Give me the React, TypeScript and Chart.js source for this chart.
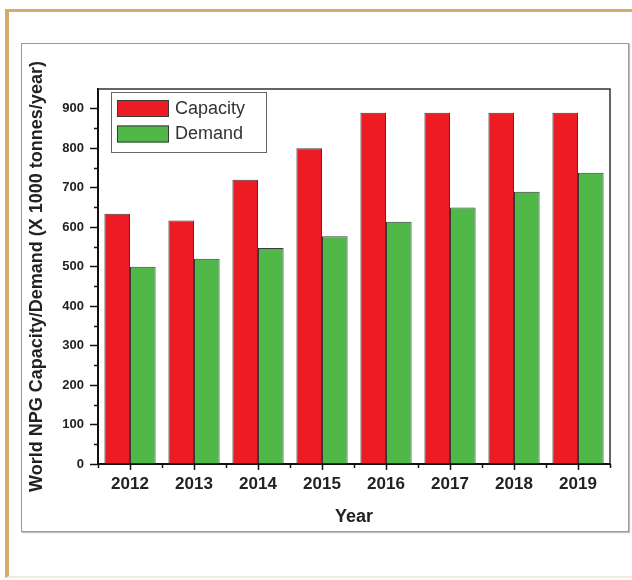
import React, { useEffect, useRef } from 'react';
import { Chart, registerables } from 'chart.js';

Chart.register(...registerables);

const YEARS = ['2012', '2013', '2014', '2015', '2016', '2017', '2018', '2019'];
const CAPACITY = [634, 617, 720, 800, 890, 890, 890, 890];
const DEMAND = [500, 520, 547, 577, 614, 650, 690, 738];
const SERIES_LABELS = ['Capacity', 'Demand'];
const Y_MIN = 0;
const Y_MAX = 950;
const Y_STEP = 100;
const Y_TITLE = 'World NPG Capacity/Demand (X 1000 tonnes/year)';
const X_TITLE = 'Year';

const RED = '#ED1C24';
const GREEN = '#4FB848';
const BAR_EDGE = '#3a3a3a';
const INK = '#222222';
const FONT = "'Liberation Sans', Arial, Helvetica, sans-serif";

const framePlugin = {
  id: 'frameAndMinorTicks',
  afterDraw(chart: any) {
    const { ctx, chartArea } = chart;
    const xs = chart.scales.x;
    const ys = chart.scales.y;
    ctx.save();
    // top and right frame lines
    ctx.strokeStyle = '#333';
    ctx.lineWidth = 1.5;
    ctx.beginPath();
    ctx.moveTo(chartArea.left, chartArea.top);
    ctx.lineTo(chartArea.right, chartArea.top);
    ctx.lineTo(chartArea.right, chartArea.bottom);
    ctx.stroke();
    // minor ticks
    ctx.strokeStyle = '#111';
    ctx.lineWidth = 1.5;
    ctx.beginPath();
    for (let v = Y_MIN + Y_STEP / 2; v < Y_MAX; v += Y_STEP) {
      const py = Math.round(ys.getPixelForValue(v)) + 0.5;
      ctx.moveTo(chartArea.left - 4, py);
      ctx.lineTo(chartArea.left, py);
    }
    const half = (xs.getPixelForValue(1) - xs.getPixelForValue(0)) / 2;
    for (let i = 0; i <= YEARS.length; i++) {
      const px = Math.round(xs.getPixelForValue(i) - half) + 0.5;
      ctx.moveTo(px, chartArea.bottom);
      ctx.lineTo(px, chartArea.bottom + 4);
    }
    ctx.stroke();
    ctx.restore();
  },
};

const legendPlugin = {
  id: 'insideLegend',
  afterDraw(chart: any) {
    const { ctx, chartArea } = chart;
    const x0 = chartArea.left + 13;
    const y0 = chartArea.top + 3;
    const w = 155;
    const h = 60;
    ctx.save();
    ctx.fillStyle = '#fff';
    ctx.fillRect(x0, y0, w, h);
    ctx.strokeStyle = '#666';
    ctx.lineWidth = 1;
    ctx.strokeRect(x0 + 0.5, y0 + 0.5, w, h);
    ctx.font = `18px ${FONT}`;
    ctx.textBaseline = 'middle';
    ctx.textAlign = 'left';
    chart.data.datasets.forEach((ds: any, i: number) => {
      const sy = y0 + 8 + i * 25.5;
      ctx.fillStyle = ds.backgroundColor;
      ctx.fillRect(x0 + 6, sy, 52, 17);
      ctx.strokeStyle = BAR_EDGE;
      ctx.strokeRect(x0 + 6.5, sy + 0.5, 51, 16);
      ctx.fillStyle = '#333';
      ctx.fillText(ds.label, x0 + 64, sy + 9);
    });
    ctx.restore();
  },
};

export default function App() {
  const ref = useRef<HTMLCanvasElement>(null);

  useEffect(() => {
    document.body.style.margin = '0';
    const chart = new Chart(ref.current as HTMLCanvasElement, {
      type: 'bar',
      data: {
        labels: YEARS,
        datasets: [
          {
            label: SERIES_LABELS[0],
            data: CAPACITY,
            backgroundColor: RED,
            borderColor: BAR_EDGE,
            borderWidth: 1,
            categoryPercentage: 0.8,
            barPercentage: 1.0,
          },
          {
            label: SERIES_LABELS[1],
            data: DEMAND,
            backgroundColor: GREEN,
            borderColor: BAR_EDGE,
            borderWidth: 1,
            categoryPercentage: 0.8,
            barPercentage: 1.0,
          },
        ],
      },
      options: {
        responsive: false,
        animation: false,
        devicePixelRatio: 1,
        layout: { padding: { left: 22, top: 89, right: 22, bottom: 52 } },
        plugins: {
          legend: { display: false },
          tooltip: { enabled: false },
        },
        scales: {
          x: {
            type: 'category',
            offset: true,
            grid: {
              display: true,
              offset: false,
              drawOnChartArea: false,
              drawTicks: true,
              tickLength: 6,
              tickWidth: 1.5,
              tickColor: '#111',
            },
            border: { display: true, color: '#111', width: 2 },
            ticks: {
              color: INK,
              padding: 4,
              maxRotation: 0,
              font: { family: FONT, size: 17, weight: 'bold' },
            },
            title: {
              display: true,
              text: X_TITLE,
              color: INK,
              padding: { top: 0, bottom: 0 },
              font: { family: FONT, size: 18, weight: 'bold' },
            },
            afterFit(scale: any) {
              scale.height = 64;
            },
          },
          y: {
            min: Y_MIN,
            max: Y_MAX,
            grid: {
              display: true,
              drawOnChartArea: false,
              drawTicks: true,
              tickLength: 8,
              tickWidth: 1.5,
              tickColor: '#111',
            },
            border: { display: true, color: '#111', width: 2 },
            ticks: {
              stepSize: Y_STEP,
              includeBounds: false,
              color: INK,
              padding: 6,
              font: { family: FONT, size: 13, weight: 'bold' },
            },
            title: {
              display: true,
              text: Y_TITLE,
              color: INK,
              padding: { top: 4, bottom: 0 },
              font: { family: FONT, size: 18, weight: 'bold' },
            },
            afterFit(scale: any) {
              scale.width = 76;
            },
          },
        },
      } as any,
      plugins: [framePlugin, legendPlugin],
    });
    return () => chart.destroy();
  }, []);

  return (
    <div
      style={{
        position: 'absolute',
        left: 0,
        top: 0,
        width: 632,
        height: 580,
        overflow: 'hidden',
        background: '#fff',
      }}
    >
      <div
        style={{
          position: 'absolute',
          left: 5,
          top: 9,
          width: 700,
          height: 569,
          borderLeft: '4px solid #D5AB6C',
          borderTop: '3px solid #D5AB6C',
          borderBottom: '2px solid #F3ECD8',
          boxSizing: 'border-box',
        }}
      />
      <div
        style={{
          position: 'absolute',
          left: 21,
          top: 43,
          width: 608,
          height: 489,
          border: '1px solid #9a9a9a',
          boxShadow: '1px 1px 1px rgba(0,0,0,0.25)',
          boxSizing: 'border-box',
        }}
      />
      <canvas
        ref={ref}
        width={632}
        height={580}
        style={{ position: 'absolute', left: 0, top: 0, width: 632, height: 580 }}
      />
    </div>
  );
}
